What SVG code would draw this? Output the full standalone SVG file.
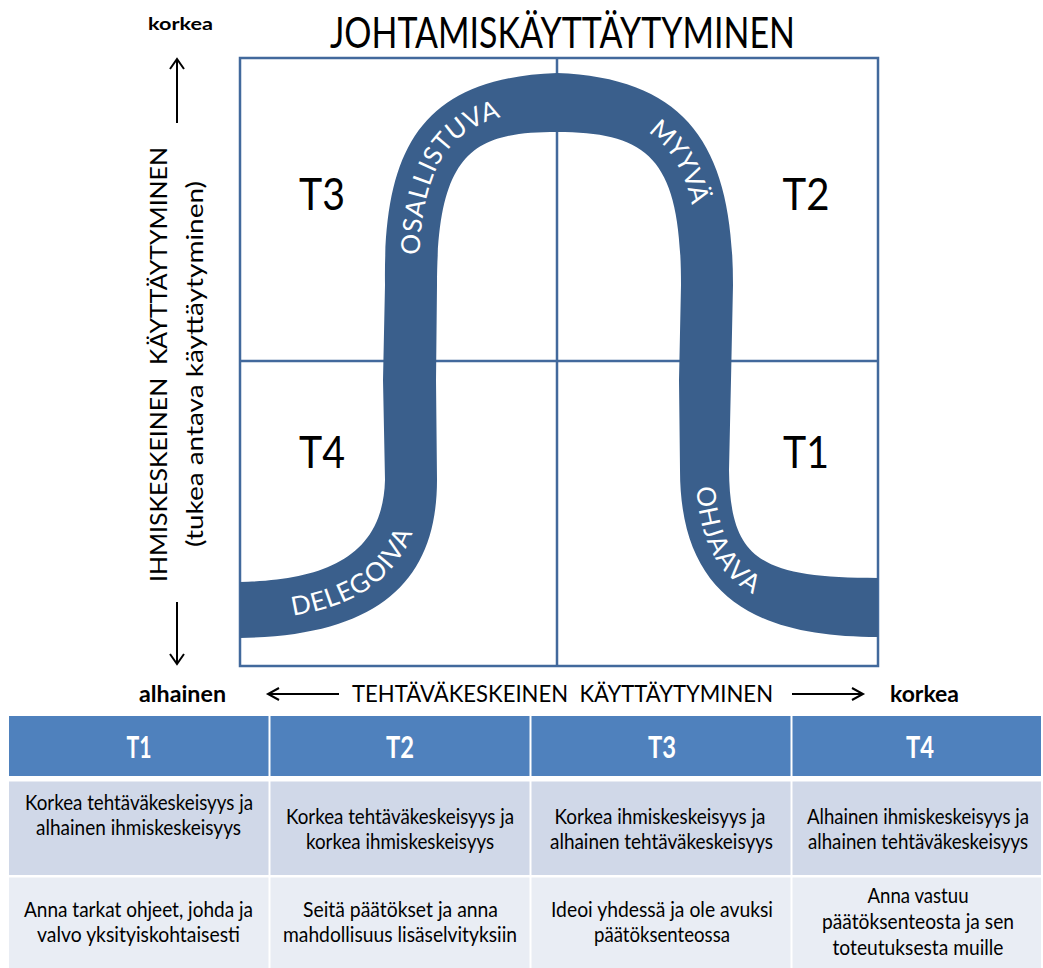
<svg xmlns="http://www.w3.org/2000/svg" width="1043" height="968" viewBox="0 0 1043 968">
<style>
text { font-family: Lato, "Open Sans", "Liberation Sans", sans-serif; fill:#000; }
.grid { fill:none; stroke:#42699c; stroke-width:2.5; }
.band { fill:#3a5f8c; }
.lbl { fill:#fff; font-size:26px; text-anchor:middle; }
.big { font-size:45px; }
.ax { stroke:#000; stroke-width:2; fill:none; }
.axt { font-size:24px; }
.bold { font-weight:bold; }
.hd { fill:#4f81bd; }
.r1 { fill:#d0d8e8; }
.r2 { fill:#e9edf4; }
.ht { fill:#fff; font-size:30px; font-weight:bold; text-anchor:middle; }
.bt { font-size:21px; text-anchor:middle; }
.pre { white-space:pre; }
</style>
<defs>
<path id="cl" d="M 240 610 C 350 608, 410 570, 411 480 L 411 285 C 410 150, 447 105, 557 102 C 670 105, 707 155, 707 285 L 705 470 C 705 580, 760 607, 878 607"/>
</defs>
<rect width="1043" height="968" fill="#fff"/>

<g id="title">
<text x="562.5" y="48" font-size="43" text-anchor="middle" textLength="465" lengthAdjust="spacingAndGlyphs">JOHTAMISKÄYTTÄYTYMINEN</text>
</g>

<g id="y-axis">
<text class="bold" x="148" y="30" font-size="17" textLength="65" lengthAdjust="spacingAndGlyphs">korkea</text>
<path class="ax" d="M177 123 V59 M170 69 L177 59 L184 69"/>
<path class="ax" d="M177 602 V664 M170 654 L177 664 L184 654"/>
<text class="axt pre" transform="translate(167,364.5) rotate(-90)" text-anchor="middle" textLength="435" lengthAdjust="spacingAndGlyphs">IHMISKESKEINEN  KÄYTTÄYTYMINEN</text>
<text class="axt" transform="translate(203,364) rotate(-90)" text-anchor="middle" textLength="366" lengthAdjust="spacingAndGlyphs">(tukea antava käyttäytyminen)</text>
</g>

<g id="x-axis">
<text class="bold" x="139" y="702" font-size="23" textLength="87" lengthAdjust="spacingAndGlyphs">alhainen</text>
<path class="ax" d="M339 694 H268 M279 688 L268 694 L279 700"/>
<text class="axt pre" x="562.5" y="702" text-anchor="middle" textLength="421" lengthAdjust="spacingAndGlyphs">TEHTÄVÄKESKEINEN  KÄYTTÄYTYMINEN</text>
<path class="ax" d="M792 694 H863 M852 688 L863 694 L852 700"/>
<text class="bold" x="890" y="702" font-size="23" textLength="69" lengthAdjust="spacingAndGlyphs">korkea</text>
</g>

<g id="grid">
<rect class="grid" x="240" y="58" width="638" height="608"/>
<line class="grid" x1="557" y1="58" x2="557" y2="666"/>
<line class="grid" x1="240" y1="361" x2="878" y2="361"/>
</g>

<g id="curve">
<path class="band" d="M 240 582 C 320 580, 383 560, 385 480 L 383 380 L 385 285 C 383 150, 420 78, 557 73 C 690 78, 733 150, 733 285 L 731 380 L 729 470 C 730 560, 760 578, 878 578 L 878 637 C 760 637, 680 600, 680 470 L 679 380 L 681 285 C 681 160, 650 132, 557 132 C 475 132, 437 150, 437 285 L 436 380 L 437 480 C 437 580, 380 636, 240 638 Z"/>
<text class="lbl" dy="10"><textPath href="#cl" startOffset="123">DELEGOIVA</textPath></text>
<text class="lbl" dy="8" letter-spacing="1.5"><textPath href="#cl" startOffset="562">OSALLISTUVA</textPath></text>
<text class="lbl" dy="8" letter-spacing="0.5"><textPath href="#cl" startOffset="859">MYYVÄ</textPath></text>
<text class="lbl" dy="9"><textPath href="#cl" startOffset="1248">OHJAAVA</textPath></text>
</g>

<g id="q-T3"><text class="big" x="322" y="210" text-anchor="middle" textLength="46" lengthAdjust="spacingAndGlyphs">T3</text></g>
<g id="q-T2"><text class="big" x="806" y="210" text-anchor="middle" textLength="47" lengthAdjust="spacingAndGlyphs">T2</text></g>
<g id="q-T4"><text class="big" x="322" y="468" text-anchor="middle" textLength="46" lengthAdjust="spacingAndGlyphs">T4</text></g>
<g id="q-T1"><text class="big" x="806" y="468" text-anchor="middle" textLength="46" lengthAdjust="spacingAndGlyphs">T1</text></g>

<g id="table">
<g id="col-T1">
<rect class="hd" x="9" y="716" width="259.5" height="60"/>
<text class="ht" x="139" y="758" textLength="25" lengthAdjust="spacingAndGlyphs">T1</text>
<rect class="r1" x="9" y="781.5" width="259.5" height="93.5"/>
<text class="bt" x="139" y="810" textLength="228" lengthAdjust="spacingAndGlyphs">Korkea tehtäväkeskeisyys ja</text>
<text class="bt" x="138.5" y="835" textLength="205" lengthAdjust="spacingAndGlyphs">alhainen ihmiskeskeisyys</text>
<rect class="r2" x="9" y="877.5" width="259.5" height="90.5"/>
<text class="bt" x="138.5" y="917" textLength="229" lengthAdjust="spacingAndGlyphs">Anna tarkat ohjeet, johda ja</text>
<text class="bt" x="138.5" y="942" textLength="203" lengthAdjust="spacingAndGlyphs">valvo yksityiskohtaisesti</text>
</g>
<g id="col-T2">
<rect class="hd" x="270.5" y="716" width="259" height="60"/>
<text class="ht" x="400" y="758" textLength="28" lengthAdjust="spacingAndGlyphs">T2</text>
<rect class="r1" x="270.5" y="781.5" width="259" height="93.5"/>
<text class="bt" x="400" y="824" textLength="228" lengthAdjust="spacingAndGlyphs">Korkea tehtäväkeskeisyys ja</text>
<text class="bt" x="400" y="849" textLength="188" lengthAdjust="spacingAndGlyphs">korkea ihmiskeskeisyys</text>
<rect class="r2" x="270.5" y="877.5" width="259" height="90.5"/>
<text class="bt" x="400.5" y="917" textLength="195" lengthAdjust="spacingAndGlyphs">Seitä päätökset ja anna</text>
<text class="bt" x="400" y="942" textLength="234" lengthAdjust="spacingAndGlyphs">mahdollisuus lisäselvityksiin</text>
</g>
<g id="col-T3">
<rect class="hd" x="531.5" y="716" width="259" height="60"/>
<text class="ht" x="662" y="758" textLength="28" lengthAdjust="spacingAndGlyphs">T3</text>
<rect class="r1" x="531.5" y="781.5" width="259" height="93.5"/>
<text class="bt" x="660" y="824" textLength="211" lengthAdjust="spacingAndGlyphs">Korkea ihmiskeskeisyys ja</text>
<text class="bt" x="661.5" y="849" textLength="223" lengthAdjust="spacingAndGlyphs">alhainen tehtäväkeskeisyys</text>
<rect class="r2" x="531.5" y="877.5" width="259" height="90.5"/>
<text class="bt" x="662" y="917" textLength="222" lengthAdjust="spacingAndGlyphs">Ideoi yhdessä ja ole avuksi</text>
<text class="bt" x="662" y="942" textLength="136" lengthAdjust="spacingAndGlyphs">päätöksenteossa</text>
</g>
<g id="col-T4">
<rect class="hd" x="792.5" y="716" width="248.5" height="60"/>
<text class="ht" x="920" y="758" textLength="28" lengthAdjust="spacingAndGlyphs">T4</text>
<rect class="r1" x="792.5" y="781.5" width="248.5" height="93.5"/>
<text class="bt" x="918" y="824" textLength="222" lengthAdjust="spacingAndGlyphs">Alhainen ihmiskeskeisyys ja</text>
<text class="bt" x="918" y="849" textLength="220" lengthAdjust="spacingAndGlyphs">alhainen tehtäväkeskeisyys</text>
<rect class="r2" x="792.5" y="877.5" width="248.5" height="90.5"/>
<text class="bt" x="918" y="903" textLength="101" lengthAdjust="spacingAndGlyphs">Anna vastuu</text>
<text class="bt" x="918" y="929" textLength="192" lengthAdjust="spacingAndGlyphs">päätöksenteosta ja sen</text>
<text class="bt" x="918" y="955" textLength="171" lengthAdjust="spacingAndGlyphs">toteutuksesta muille</text>
</g>
</g>
</svg>
